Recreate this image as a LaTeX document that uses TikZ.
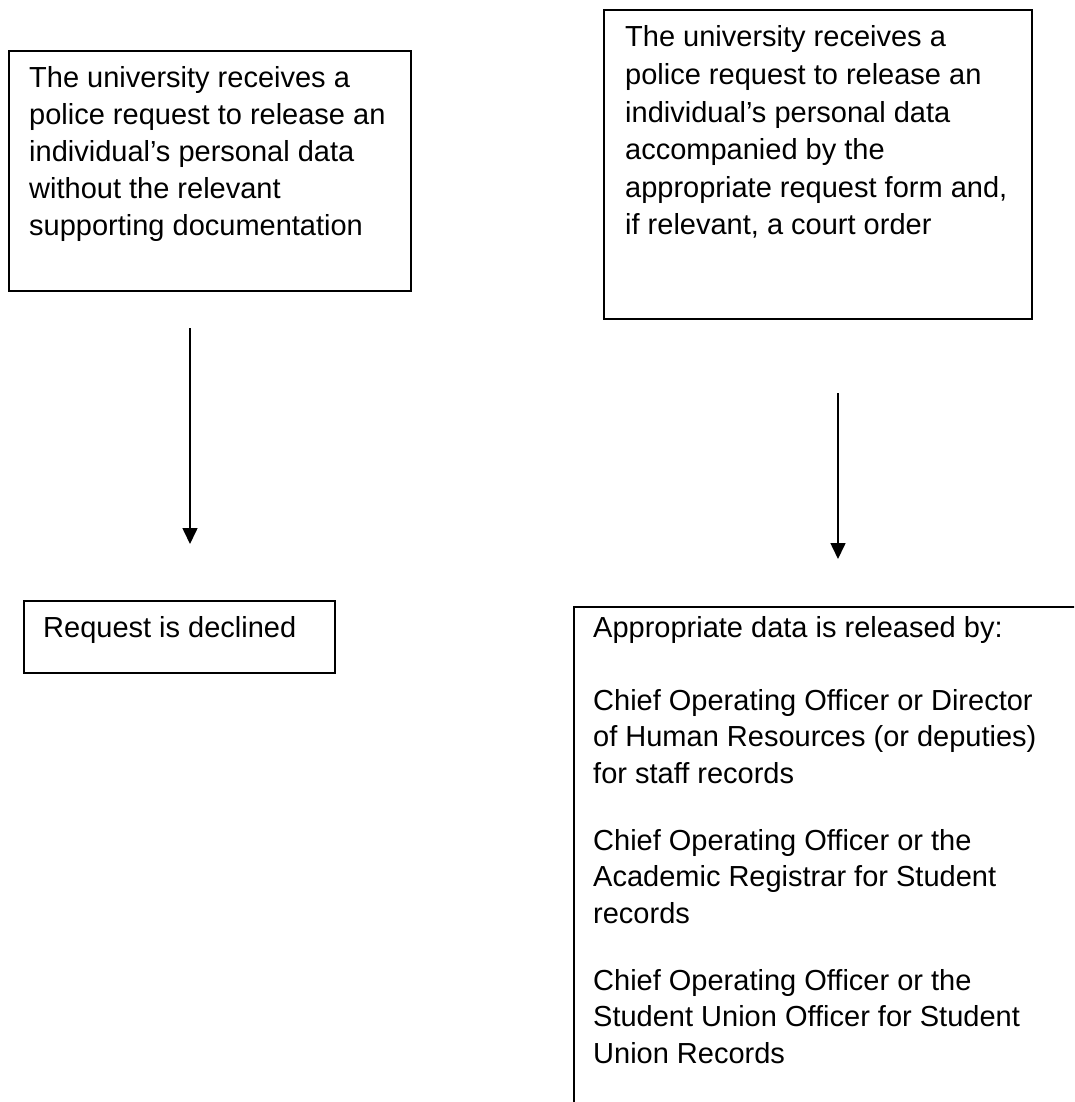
\documentclass[tikz,border=0pt]{standalone}
\usepackage{fontspec}
\setmainfont{Liberation Sans}
\usetikzlibrary{arrows.meta}
\begin{document}
\begin{tikzpicture}[x=1pt,y=-1pt,
  box/.style={draw=black, line width=1.8pt, inner sep=0pt, anchor=north west},
  txt/.style={anchor=base west, inner sep=0pt, font=\fontsize{29}{37}\selectfont},
  conn/.style={line width=1.6pt, -{Triangle[width=15pt,length=16pt]}}]
\clip (0,0) rectangle (1074,1102);
\fill[white] (0,0) rectangle (1074,1102);
% boxes
\node[box, minimum width=402pt, minimum height=240pt] (b1) at (8,50) {};
\node[box, minimum width=428pt, minimum height=309pt] (b2) at (603,9) {};
\node[box, minimum width=311pt, minimum height=72pt] (b3) at (23,600) {};
\node[box, minimum width=700pt, minimum height=700pt] (b4) at (573,606) {};
% texts
\node[txt] (t1) at (29,88) {\vtop{\baselineskip=37pt\relax
  \hbox{The university receives a}
  \hbox{police request to release an}
  \hbox{individual’s personal data}
  \hbox{without the relevant}
  \hbox{supporting documentation}}};
\node[txt] (t2) at (625,47) {\vtop{\baselineskip=37.6pt\relax
  \hbox{The university receives a}
  \hbox{police request to release an}
  \hbox{individual’s personal data}
  \hbox{accompanied by the}
  \hbox{appropriate request form and,}
  \hbox{if relevant, a court order}}};
\node[txt] (t3) at (43,637) {Request is declined};
\node[txt] (t4) at (593,637) {\vtop{\baselineskip=36.5pt\relax
  \hbox{Appropriate data is released by:}
  \vskip 36.5pt
  \hbox{Chief Operating Officer or Director}
  \hbox{of Human Resources (or deputies)}
  \hbox{for staff records}
  \vskip 30.5pt
  \hbox{Chief Operating Officer or the}
  \hbox{Academic Registrar for Student}
  \hbox{records}
  \vskip 30.5pt
  \hbox{Chief Operating Officer or the}
  \hbox{Student Union Officer for Student}
  \hbox{Union Records}}};
% connectors
\coordinate (a1s) at (190,328);
\coordinate (a1e) at (190,544);
\coordinate (a2s) at (838,393);
\coordinate (a2e) at (838,559);
\draw[conn] (a1s) -- (a1e);
\draw[conn] (a2s) -- (a2e);
\end{tikzpicture}
\end{document}
